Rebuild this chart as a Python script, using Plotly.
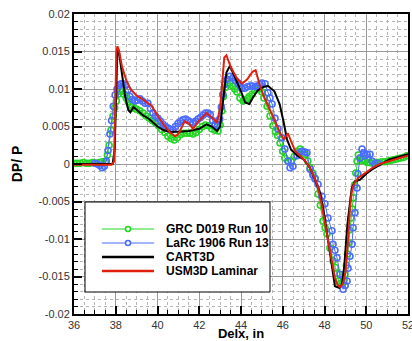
import plotly.graph_objects as go

# ---------------- data ----------------
grc_x = [36.0, 36.15, 36.3, 36.45, 36.6, 36.75, 36.9, 37.05, 37.2, 37.35,
         37.5, 37.6, 37.68, 37.77, 37.87, 37.95, 38.03, 38.11, 38.2, 38.3,
         38.4, 38.5, 38.6, 38.7, 38.8, 38.9, 39.0, 39.15, 39.3, 39.45,
         39.6, 39.75, 39.9, 40.05, 40.2, 40.35, 40.5, 40.65, 40.8, 40.95,
         41.1, 41.25, 41.4, 41.55, 41.7, 41.85, 42.0, 42.15, 42.3, 42.45,
         42.6, 42.75, 42.9, 43.0, 43.09, 43.16, 43.25, 43.35, 43.47, 43.6,
         43.7, 43.81, 43.95, 44.1, 44.2, 44.3, 44.4, 44.53, 44.65, 44.77,
         44.9, 45.0, 45.1, 45.25, 45.39, 45.53, 45.65, 45.75, 45.87, 46.0,
         46.1, 46.25, 46.4, 46.55, 46.68, 46.83, 46.95, 47.07, 47.2, 47.31,
         47.43, 47.55, 47.69, 47.8, 47.93, 48.03, 48.12, 48.26, 48.41, 48.52,
         48.6, 48.67, 48.76, 48.84, 48.92, 48.98, 49.05, 49.1, 49.15, 49.2,
         49.27, 49.33, 49.38, 49.44, 49.5, 49.56, 49.62, 49.7, 49.78, 49.87,
         49.95, 50.05, 50.15, 50.3, 50.45, 50.6, 50.75, 50.9, 51.05, 51.2,
         51.35, 51.5, 51.65, 51.8, 51.95]
grc_y = [0.0001, 0.0001, 0.0001, 0.0002, 0.0001, 0.0001, 0.0002, 0.0001, 0.0002, 0.0003,
         0.0003, 0.0012, 0.0025, 0.0045, 0.0064, 0.0075, 0.0084, 0.0093, 0.0097, 0.0097,
         0.0093, 0.0088, 0.0083, 0.0079, 0.0076, 0.0074, 0.0073, 0.0071, 0.0068, 0.0064,
         0.0061, 0.0058, 0.0055, 0.0051, 0.0046, 0.0042, 0.0037, 0.0034, 0.0032, 0.0035,
         0.0039, 0.0041, 0.0041, 0.0041, 0.0040, 0.0042, 0.0046, 0.0050, 0.0052, 0.0051,
         0.0047, 0.0045, 0.0044, 0.0052, 0.0071, 0.0090, 0.0102, 0.0107, 0.0108, 0.0104,
         0.0100, 0.0096, 0.0088, 0.0084, 0.0085, 0.0087, 0.0090, 0.0093, 0.0098, 0.0101,
         0.0100, 0.0096, 0.0088, 0.0077, 0.0064, 0.0051, 0.0043, 0.0038, 0.0028, 0.0017,
         0.0008, 0.0004, 0.0004, 0.0010, 0.0017, 0.0020, 0.0017, 0.0013, 0.0004, -0.0005,
         -0.0012, -0.0019, -0.0040, -0.0055, -0.0076, -0.0085, -0.0093, -0.0112, -0.0129, -0.0138,
         -0.0146, -0.0156, -0.0159, -0.0160, -0.0155, -0.0147, -0.0135, -0.0120, -0.0105, -0.0088,
         -0.0072, -0.0060, -0.0045, -0.0028, -0.0012, 0.0004, 0.0012, 0.0008, 0.0005, 0.0006,
         0.0004, 0.0002, 0.0002, 0.0001, 0.0002, 0.0002, 0.0003, 0.0003, 0.0004, 0.0005,
         0.0006, 0.0007, 0.0008, 0.0009, 0.0011]

larc_x = [37.0, 37.12, 37.24, 37.35, 37.45, 37.55, 37.63, 37.72, 37.8, 37.88,
          37.97, 38.06, 38.15, 38.25, 38.35, 38.47, 38.59, 38.68, 38.8, 38.92,
          39.04, 39.16, 39.28, 39.4, 39.54, 39.66, 39.78, 39.9, 40.02, 40.14,
          40.26, 40.38, 40.5, 40.62, 40.74, 40.86, 40.98, 41.1, 41.22, 41.34,
          41.46, 41.58, 41.7, 41.82, 41.94, 42.06, 42.18, 42.3, 42.42, 42.53,
          42.64, 42.76, 42.88, 42.98, 43.06, 43.13, 43.22, 43.33, 43.47, 43.62,
          43.74, 43.86, 43.96, 44.05, 44.19, 44.31, 44.43, 44.55, 44.67, 44.77,
          44.9, 45.0, 45.15, 45.29, 45.39, 45.49, 45.63, 45.77, 45.96, 46.1,
          46.25, 46.35, 46.49, 46.68, 46.8, 46.92, 47.05, 47.16, 47.31, 47.45,
          47.55, 47.69, 47.88, 48.02, 48.17, 48.36, 48.41, 48.5, 48.6, 48.74,
          48.89, 48.99, 49.08, 49.13, 49.22, 49.32, 49.37, 49.46, 49.56, 49.6,
          49.7, 49.8, 49.88, 49.94, 50.04, 50.18, 50.28, 50.42, 50.56]
larc_y = [0.0001, 0.0000, -0.0002, -0.0005, -0.0003, 0.0004, 0.0018, 0.0040, 0.0058, 0.0077,
          0.0092, 0.0100, 0.0105, 0.0107, 0.0107, 0.0105, 0.0099, 0.0090, 0.0086, 0.0084,
          0.0085, 0.0087, 0.0084, 0.0081, 0.0081, 0.0074, 0.0068, 0.0064, 0.0061, 0.0057,
          0.0053, 0.0050, 0.0048, 0.0046, 0.0046, 0.0050, 0.0054, 0.0057, 0.0059, 0.0060,
          0.0058, 0.0056, 0.0055, 0.0057, 0.0060, 0.0062, 0.0065, 0.0068, 0.0068, 0.0066,
          0.0058, 0.0053, 0.0051, 0.0060, 0.0076, 0.0093, 0.0106, 0.0113, 0.0117, 0.0115,
          0.0111, 0.0108, 0.0104, 0.0101, 0.0101, 0.0103, 0.0104, 0.0104, 0.0103, 0.0104,
          0.0106, 0.0108, 0.0107, 0.0095, 0.0088, 0.0080, 0.0061, 0.0047, 0.0035, 0.0020,
          0.0004, -0.0005, -0.0003, 0.0011, 0.0015, 0.0017, 0.0016, 0.0015, -0.0007, -0.0015,
          -0.0020, -0.0027, -0.0043, -0.0053, -0.0072, -0.0089, -0.0107, -0.0115, -0.0125, -0.0147,
          -0.0167, -0.0162, -0.0156, -0.0139, -0.0123, -0.0107, -0.0085, -0.0065, -0.0032, -0.0013,
          0.0008, 0.0020, 0.0015, 0.0011, 0.0013, 0.0013, 0.0004, 0.0000, 0.0001]

cart_x = [36.0, 37.0, 37.85, 37.95, 38.02, 38.08, 38.15, 38.3, 38.45, 38.6,
          38.7, 38.85, 39.0, 39.3, 39.6, 40.0, 40.3, 40.6, 41.0, 41.5,
          42.0, 42.35, 42.6, 42.85, 43.0, 43.15, 43.3, 43.47, 43.7, 44.0,
          44.2, 44.4, 44.6, 44.8, 45.1, 45.3, 45.6, 45.85, 46.05, 46.2,
          46.4, 46.7, 47.0, 47.3, 47.6, 47.8, 48.0, 48.2, 48.4, 48.5,
          48.7, 48.84, 48.95, 49.1, 49.3, 49.45, 49.7, 50.0, 50.3, 50.7,
          51.1, 51.5, 52.0]
cart_y = [0.0000, 0.0000, 0.0000, 0.0020, 0.0120, 0.0155, 0.0150, 0.0120, 0.0090, 0.0072,
          0.0069, 0.0076, 0.0072, 0.0065, 0.0060, 0.0050, 0.0045, 0.0043, 0.0043, 0.0044,
          0.0047, 0.0053, 0.0050, 0.0044, 0.0050, 0.0090, 0.0122, 0.0131, 0.0117, 0.0097,
          0.0082, 0.0080, 0.0090, 0.0098, 0.0103, 0.0104, 0.0097, 0.0080, 0.0055, 0.0033,
          0.0019, 0.0011, 0.0006, -0.0005, -0.0025, -0.0040, -0.0070, -0.0105, -0.0145, -0.0163,
          -0.0165, -0.0160, -0.0135, -0.0080, -0.0033, -0.0023, -0.0021, -0.0013, -0.0007, 0.0000,
          0.0006, 0.0009, 0.0013]

usm_x = [36.0, 37.0, 37.8, 37.92, 37.98, 38.03, 38.08, 38.15, 38.3, 38.5,
         38.7, 39.0, 39.2, 39.5, 39.7, 40.0, 40.3, 40.6, 40.85, 41.0,
         41.3, 41.5, 41.7, 42.0, 42.35, 42.6, 42.85, 43.0, 43.1, 43.2,
         43.3, 43.5, 43.8, 44.05, 44.3, 44.55, 44.7, 44.9, 45.1, 45.4,
         45.7, 45.9, 46.05, 46.25, 46.4, 46.6, 46.9, 47.1, 47.3, 47.5,
         47.65, 47.8, 48.0, 48.15, 48.35, 48.5, 48.62, 48.75, 48.88, 49.0,
         49.08, 49.15, 49.22, 49.3, 49.4, 49.6, 49.8, 50.0, 50.3, 50.66,
         51.0, 51.3, 51.6, 52.0]
usm_y = [-0.0001, -0.0001, -0.0001, 0.0003, 0.0080, 0.0150, 0.0157, 0.0152, 0.0130, 0.0112,
         0.0100, 0.0091, 0.0088, 0.0082, 0.0078, 0.0065, 0.0052, 0.0042, 0.0037, 0.0040,
         0.0057, 0.0054, 0.0047, 0.0058, 0.0068, 0.0062, 0.0055, 0.0075, 0.0110, 0.0142,
         0.0145, 0.0130, 0.0114, 0.0107, 0.0113, 0.0123, 0.0125, 0.0105, 0.0090, 0.0071,
         0.0052, 0.0040, 0.0033, 0.0041, 0.0030, 0.0017, 0.0009, 0.0003, -0.0005, -0.0017,
         -0.0027, -0.0045, -0.0075, -0.0097, -0.0130, -0.0152, -0.0161, -0.0164, -0.0160, -0.0145,
         -0.0120, -0.0085, -0.0059, -0.0038, -0.0027, -0.0019, -0.0015, -0.0010, -0.0005, 0.0000,
         0.0003, 0.0006, 0.0008, 0.0011]

series_names = ["GRC D019 Run 10", "LaRc 1906 Run 13", "CART3D", "USM3D Laminar"]
x_ticks = [36, 38, 40, 42, 44, 46, 48, 50, 52]
y_ticks = [-0.02, -0.015, -0.01, -0.005, 0, 0.005, 0.01, 0.015, 0.02]
y_tick_text = ["-0.02", "-0.015", "-0.01", "-0.005", "0", "0.005", "0.01", "0.015", "0.02"]

# ---------------- style ----------------
GREEN = "#22d622"
BLUE = "#4a6cff"
BLACK = "#000000"
RED = "#e0200c"
FONT = "Liberation Sans, Arial, sans-serif"

fig = go.Figure()
fig.add_trace(go.Scatter(x=grc_x, y=grc_y, name=series_names[0], mode="lines+markers",
                         line=dict(color=GREEN, width=1),
                         marker=dict(symbol="circle-open", size=6, color=GREEN, line=dict(width=1.6))))
fig.add_trace(go.Scatter(x=larc_x, y=larc_y, name=series_names[1], mode="lines+markers",
                         line=dict(color=BLUE, width=1),
                         marker=dict(symbol="circle-open", size=6, color=BLUE, line=dict(width=1.6))))
fig.add_trace(go.Scatter(x=cart_x, y=cart_y, name=series_names[2], mode="lines",
                         line=dict(color=BLACK, width=2)))
fig.add_trace(go.Scatter(x=usm_x, y=usm_y, name=series_names[3], mode="lines",
                         line=dict(color=RED, width=2)))

axis_common = dict(
    showline=True, linecolor="black", linewidth=2, mirror=True,
    ticks="inside", ticklen=8, tickwidth=2, tickcolor="black",
    showgrid=True, gridcolor="#9a9a9a", gridwidth=1,
    zeroline=False, automargin=False, ticklabeloverflow="allow",
    tickfont=dict(family=FONT, size=11, color="#333333"),
)

fig.update_xaxes(range=[36, 52], tickvals=x_ticks, ticktext=[str(v) for v in x_ticks],
                 minor=dict(dtick=0.5, showgrid=True, griddash="dot", gridcolor="#b5b5b5",
                            gridwidth=1, ticks="inside", ticklen=4, tickwidth=1, tickcolor="black"),
                 title=dict(text="<b>Delx, in</b>", font=dict(family=FONT, size=13, color="black"),
                            standoff=2),
                 **axis_common)
fig.update_yaxes(range=[-0.02, 0.02], tickvals=y_ticks, ticktext=y_tick_text,
                 minor=dict(dtick=0.001, showgrid=True, griddash="dot", gridcolor="#b5b5b5",
                            gridwidth=1, ticks="inside", ticklen=4, tickwidth=1, tickcolor="black"),
                 title=dict(text="<b>DP/ P</b>", font=dict(family=FONT, size=14, color="black"),
                            standoff=13),
                 **axis_common)

# ---------------- legend (drawn as a box in the plot's paper space) ----------------
W, H = 334.0, 300.0
def px(x):
    return (x - 74) / W
def py(y):
    return (314 - y) / H

shapes = [dict(type="rect", xref="paper", yref="paper", x0=px(85), x1=px(270), y0=py(292), y1=py(202),
               fillcolor="white", line=dict(color="black", width=1), layer="above")]
annotations = []
legend_rows = [(229, GREEN, 1, True), (243, BLUE, 1, True), (257, BLACK, 2.5, False), (271, RED, 2.5, False)]
for (yy, col, lw, mk), name in zip(legend_rows, series_names):
    shapes.append(dict(type="line", xref="paper", yref="paper", x0=px(102), x1=px(154),
                       y0=py(yy), y1=py(yy), line=dict(color=col, width=lw), layer="above"))
    if mk:
        shapes.append(dict(type="circle", xref="paper", yref="paper", x0=px(125.5), x1=px(130.5),
                           y0=py(yy + 2.5), y1=py(yy - 2.5), fillcolor="white",
                           line=dict(color=col, width=1.6), layer="above"))
    annotations.append(dict(xref="paper", yref="paper", x=px(164), y=py(yy), xanchor="left",
                            yanchor="middle", showarrow=False, text="<b>%s</b>" % name,
                            font=dict(family=FONT, size=12, color="black")))

fig.update_layout(
    width=412, height=341,
    margin=dict(l=74, r=4, t=14, b=27),
    paper_bgcolor="white", plot_bgcolor="white",
    showlegend=False,
    shapes=shapes, annotations=annotations,
    font=dict(family=FONT),
)

fig.write_html("out.html", config={"displayModeBar": False},
               post_script="document.body.style.margin='0';document.body.style.overflow='hidden';")
